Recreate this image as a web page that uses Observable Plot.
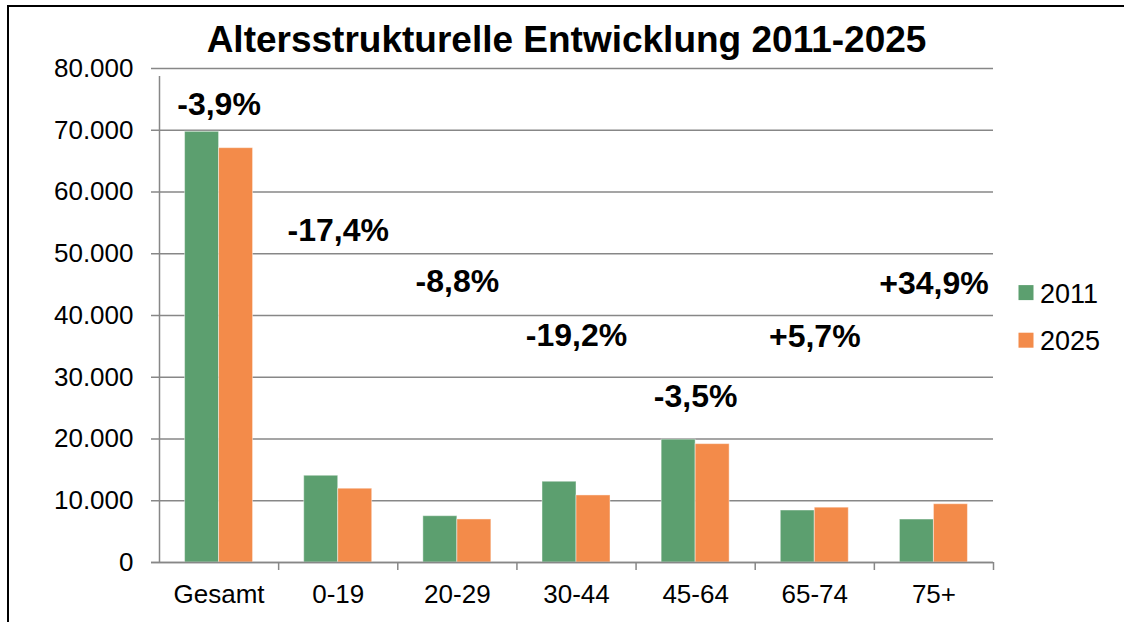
<!DOCTYPE html>
<html>
<head>
<meta charset="utf-8">
<script src="https://cdn.jsdelivr.net/npm/d3@7"></script>
<script src="https://cdn.jsdelivr.net/npm/@observablehq/plot@0.6"></script>
<style>
  html, body { margin: 0; padding: 0; background: #fff; }
  #wrap { position: relative; width: 1124px; height: 622px; overflow: hidden; font-family: "Liberation Sans", Arial, sans-serif; }
  #wrap > * { position: absolute; left: 0; top: 0; }
</style>
</head>
<body>
<div id="wrap"></div>
<script>
// ---- data ----
const categories = ["Gesamt", "0-19", "20-29", "30-44", "45-64", "65-74", "75+"];
const years = ["2011", "2025"];
const values2011 = [69750, 14050, 7500, 13080, 19900, 8420, 6960];
const values2025 = [67100, 11950, 6970, 10860, 19170, 8880, 9440];
const changeLabels = ["-3,9%", "-17,4%", "-8,8%", "-19,2%", "-3,5%", "+5,7%", "+34,9%"];
const changeLabelAt = [74100, 53800, 45500, 36700, 26800, 36600, 45100];
const yTicks = [0, 10000, 20000, 30000, 40000, 50000, 60000, 70000, 80000];
const title = "Altersstrukturelle Entwicklung 2011-2025";
const colors = ["#5C9F6F", "#F38B4A"];

// ---- layout ----
const W = 1124, H = 622, ML = 159, MR = 131, MT = 68, MB = 60;
const step = (W - ML - MR) / categories.length;
const barW = step * 0.2854;
const outer = (step - 2 * barW) / 2;
const gridColor = "#878787";
const font = "'Liberation Sans', Arial, sans-serif";

const rows = categories.flatMap((c, i) => [
  {cat: c, year: years[0], value: values2011[i]},
  {cat: c, year: years[1], value: values2025[i]}
]);
const labels = categories.map((c, i) => ({cat: c, text: changeLabels[i], at: changeLabelAt[i]}));

const chart = Plot.plot({
  width: W, height: H,
  marginLeft: ML, marginRight: MR, marginTop: MT, marginBottom: MB,
  x: {type: "band", domain: categories, padding: 0, round: false, label: null},
  y: {domain: [0, 80000], label: null},
  style: {fontFamily: font, background: "transparent", color: "black", overflow: "visible"},
  marks: [
    Plot.ruleY(yTicks, {y: d => d, insetLeft: -8, stroke: gridColor, strokeWidth: 1.5}),
    Plot.barY(rows.filter(d => d.year === years[0]), {
      x: "cat", y: "value", fill: colors[0],
      insetLeft: outer, insetRight: outer + barW,
      stroke: "#fff", strokeOpacity: 0.45, strokeWidth: 1
    }),
    Plot.barY(rows.filter(d => d.year === years[1]), {
      x: "cat", y: "value", fill: colors[1],
      insetLeft: outer + barW, insetRight: outer,
      stroke: "#fff", strokeOpacity: 0.45, strokeWidth: 1
    }),
    Plot.ruleY([0], {y: d => d, insetLeft: -8, stroke: gridColor, strokeWidth: 1.5}),
    Plot.ruleX([categories[0]], {x: d => d, y1: 0, y2: 80000, insetBottom: -8, dx: -step / 2, stroke: gridColor, strokeWidth: 1.5}),
    Plot.ruleX(categories.slice(1), {x: d => d, y1: 0, y2: 0, insetBottom: -8, dx: -step / 2, stroke: gridColor, strokeWidth: 1.5}),
    Plot.ruleX([categories[categories.length - 1]], {x: d => d, y1: 0, y2: 0, insetBottom: -8, dx: step / 2, stroke: gridColor, strokeWidth: 1.5}),
    Plot.axisY({ticks: yTicks, tickSize: 0, tickPadding: 26, fontSize: 26, fill: "black", label: null,
      tickFormat: d => d.toLocaleString("de-DE")}),
    Plot.axisX({tickSize: 0, tickPadding: 22, fontSize: 26, fill: "black", label: null}),
    Plot.text(labels, {x: "cat", y: "at", text: "text", fontSize: 32, fontWeight: "bold", fill: "black"})
  ]
});
const wrap = document.getElementById("wrap");
wrap.appendChild(chart);

// ---- overlay: frame, title, legend ----
const ns = "http://www.w3.org/2000/svg";
const ov = document.createElementNS(ns, "svg");
ov.setAttribute("width", W); ov.setAttribute("height", H);
ov.style.fontFamily = font;
function el(tag, attrs, text) {
  const e = document.createElementNS(ns, tag);
  for (const k in attrs) e.setAttribute(k, attrs[k]);
  if (text != null) e.textContent = text;
  ov.appendChild(e);
  return e;
}
el("path", {d: `M8,${H} V6 H${W}`, fill: "none", stroke: "black", "stroke-width": 2});
el("text", {x: 566.5, y: 51.7, "text-anchor": "middle", "font-size": 37, "font-weight": "bold", fill: "black"}, title);
years.forEach((yr, i) => {
  const base = 302.6 + i * 47.6;
  el("rect", {x: 1018.5, y: base - 17.5, width: 15, height: 15, fill: colors[i]});
  el("text", {x: 1040, y: base, "font-size": 27, fill: "black"}, yr);
});
wrap.appendChild(ov);
</script>
</body>
</html>
